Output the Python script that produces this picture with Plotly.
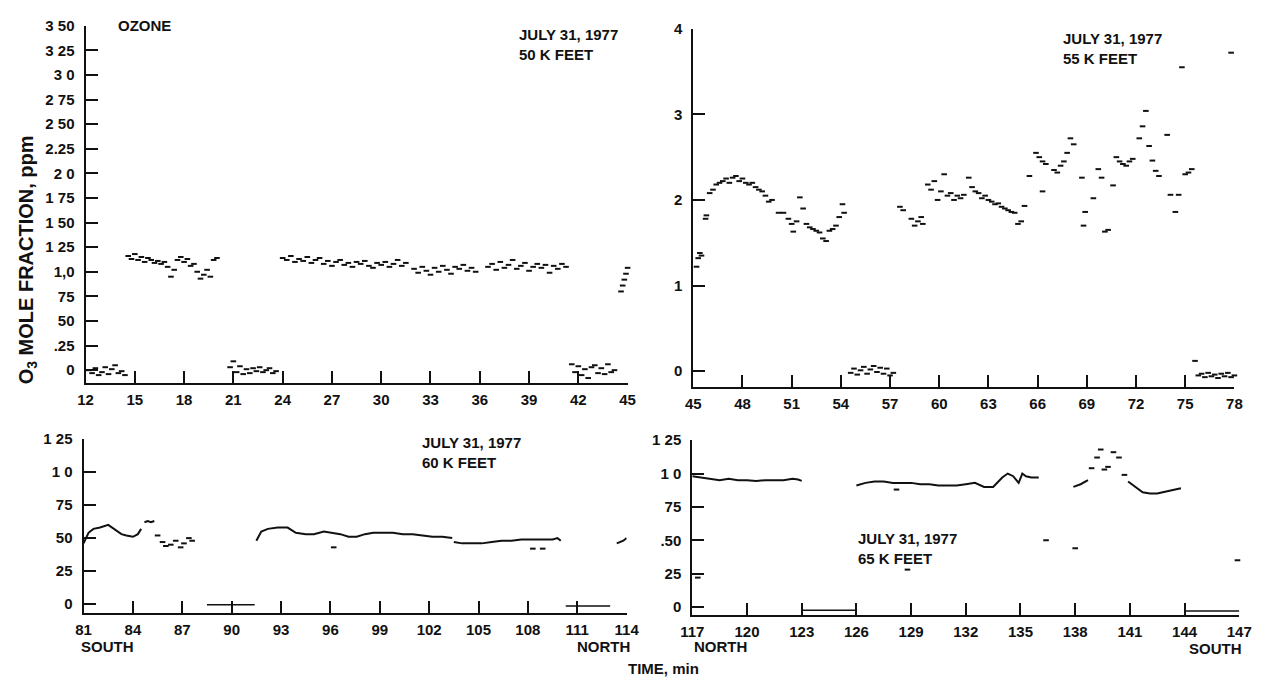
import plotly.graph_objects as go

# ---------------- DATA ----------------
# Panel 1: 50 K feet (time 12-45 min)
tl_zero1_x = [12.2, 12.4, 12.6, 12.8, 13.0, 13.2, 13.4, 13.6, 13.8, 14.0, 14.2, 14.4]
tl_zero1_y = [0.00, -0.03, 0.02, -0.05, -0.02, 0.03, -0.04, 0.01, 0.05, -0.03, -0.01, -0.05]
tl_a_x = [14.6, 14.8, 15.0, 15.2, 15.4, 15.6, 15.8, 16.0, 16.2, 16.4, 16.6, 16.8, 17.0, 17.2,
          17.4, 17.6, 17.8, 18.0, 18.2, 18.4, 18.6, 18.8, 19.0, 19.2, 19.4, 19.6, 19.8, 20.0]
tl_a_y = [1.16, 1.13, 1.18, 1.12, 1.15, 1.10, 1.14, 1.12, 1.09, 1.11, 1.08, 1.10, 1.05, 0.95,
          1.02, 1.12, 1.15, 1.10, 1.13, 1.06, 1.08, 1.00, 0.93, 0.97, 1.02, 0.95, 1.12, 1.14]
tl_zero2_x = [20.8, 21.0, 21.2, 21.4, 21.6, 21.8, 22.0, 22.2, 22.4, 22.6, 22.8, 23.0, 23.2, 23.4, 23.6]
tl_zero2_y = [0.03, 0.09, -0.02, 0.04, -0.04, 0.01, -0.03, 0.02, -0.01, 0.03, -0.02, 0.00, 0.02, -0.03, -0.01]
tl_d1_x = [24.0, 24.25, 24.5, 24.75, 25.0, 25.25, 25.5, 25.75, 26.0, 26.25, 26.5, 26.75, 27.0, 27.25,
           27.5, 27.75, 28.0, 28.25, 28.5, 28.75, 29.0, 29.25, 29.5, 29.75, 30.0, 30.25, 30.5, 30.75,
           31.0, 31.25, 31.5]
tl_d1_y = [1.14, 1.12, 1.16, 1.10, 1.13, 1.11, 1.15, 1.09, 1.12, 1.14, 1.08, 1.11, 1.06, 1.10,
           1.12, 1.07, 1.09, 1.05, 1.10, 1.08, 1.11, 1.06, 1.04, 1.09, 1.07, 1.10, 1.05, 1.08,
           1.12, 1.06, 1.09]
tl_d2_x = [32.0, 32.25, 32.5, 32.75, 33.0, 33.25, 33.5, 33.75, 34.0, 34.25, 34.5, 34.75, 35.0, 35.25, 35.5, 35.75]
tl_d2_y = [1.03, 0.99, 1.05, 1.01, 0.97, 1.04, 1.00, 1.06, 1.02, 0.98, 1.05, 1.03, 1.07, 1.01, 1.04, 1.00]
tl_d3_x = [36.5, 36.75, 37.0, 37.25, 37.5, 37.75, 38.0, 38.25, 38.5, 38.75, 39.0, 39.25, 39.5, 39.75,
           40.0, 40.25, 40.5, 40.75, 41.0, 41.25]
tl_d3_y = [1.05, 1.08, 1.02, 1.10, 1.04, 1.07, 1.12, 1.03, 1.06, 1.09, 1.01, 1.05, 1.08, 1.04,
           1.07, 0.99, 1.06, 1.03, 1.08, 1.05]
tl_zero3_x = [41.6, 41.8, 42.0, 42.2, 42.4, 42.6, 42.8, 43.0, 43.2, 43.4, 43.6, 43.8, 44.0, 44.2]
tl_zero3_y = [0.06, -0.02, 0.04, -0.05, 0.01, -0.08, 0.03, 0.05, -0.03, 0.02, -0.04, 0.06, -0.02, 0.00]
tl_b_x = [44.6, 44.7, 44.8, 44.9, 45.0]
tl_b_y = [0.80, 0.86, 0.92, 0.98, 1.04]

# Panel 2: 55 K feet (time 45-78 min)
tr_a_x = [45.2, 45.3, 45.4, 45.5, 45.75, 45.8]
tr_a_y = [1.22, 1.32, 1.38, 1.35, 1.78, 1.82]
tr_b_x = [46.0, 46.2, 46.4, 46.6, 46.8, 47.0, 47.2, 47.4, 47.6, 47.8, 48.0, 48.2, 48.4, 48.6,
          48.8, 49.0, 49.2, 49.4, 49.6, 49.8]
tr_b_y = [2.08, 2.12, 2.18, 2.20, 2.22, 2.25, 2.20, 2.26, 2.28, 2.22, 2.25, 2.20, 2.18, 2.20,
          2.15, 2.12, 2.10, 2.05, 1.98, 2.00]
tr_c_x = [50.2, 50.5, 50.8, 51.0, 51.1, 51.3, 51.5, 51.7, 51.9, 52.1, 52.3, 52.5, 52.7, 52.9,
          53.1, 53.3, 53.5, 53.7, 53.9, 54.1, 54.2]
tr_c_y = [1.85, 1.85, 1.78, 1.72, 1.63, 1.75, 2.03, 1.90, 1.72, 1.68, 1.66, 1.64, 1.62, 1.55,
          1.52, 1.64, 1.66, 1.70, 1.80, 1.95, 1.85]
tr_zero1_x = [54.6, 54.8, 55.0, 55.2, 55.4, 55.6, 55.8, 56.0, 56.2, 56.4, 56.6, 56.8, 57.0, 57.2]
tr_zero1_y = [-0.02, 0.03, -0.04, 0.01, 0.05, -0.03, 0.02, 0.06, -0.01, 0.04, -0.03, 0.03, -0.05, -0.02]
tr_d_x = [57.6, 57.8, 58.3, 58.5, 58.7, 58.9, 59.0]
tr_d_y = [1.92, 1.88, 1.78, 1.70, 1.75, 1.80, 1.72]
tr_e_x = [59.3, 59.5, 59.7, 59.9, 60.1, 60.3, 60.5, 60.7, 60.9, 61.1, 61.3, 61.5, 61.8, 62.0,
          62.2, 62.4, 62.6, 62.8, 63.0, 63.2, 63.4, 63.6, 63.8, 64.0, 64.2, 64.4, 64.6, 64.8,
          65.0, 65.2]
tr_e_y = [2.18, 2.12, 2.22, 2.00, 2.10, 2.30, 2.05, 2.08, 2.00, 2.05, 2.02, 2.06, 2.26, 2.15,
          2.10, 2.08, 2.02, 2.05, 2.00, 1.98, 1.95, 1.96, 1.92, 1.90, 1.88, 1.86, 1.85, 1.72,
          1.75, 1.93]
tr_f_x = [65.5, 65.9, 66.1, 66.3, 66.5, 66.3, 67.0, 67.2, 67.4, 67.6, 67.8, 68.0, 68.2, 68.7,
          68.8, 68.9, 69.4, 69.7, 69.9, 70.1, 70.3, 70.6, 70.8, 71.0, 71.2, 71.4, 71.6, 71.8,
          72.2, 72.4, 72.6, 72.8, 73.0, 73.2, 73.4, 73.9, 74.1, 74.4, 74.6, 75.0, 75.2, 75.4,
          74.8, 77.8]
tr_f_y = [2.28, 2.55, 2.50, 2.45, 2.42, 2.10, 2.35, 2.32, 2.40, 2.45, 2.55, 2.72, 2.65, 2.26,
          1.70, 1.86, 2.02, 2.36, 2.26, 1.63, 1.65, 2.17, 2.50, 2.45, 2.42, 2.40, 2.45, 2.48,
          2.72, 2.86, 3.04, 2.63, 2.46, 2.34, 2.28, 2.76, 2.06, 1.86, 2.06, 2.30, 2.32, 2.36,
          3.55, 3.72]
tr_zero2_x = [75.6, 75.8, 76.0, 76.2, 76.4, 76.6, 76.8, 77.0, 77.2, 77.4, 77.6, 77.8, 78.0]
tr_zero2_y = [0.12, -0.05, -0.03, -0.07, -0.02, -0.06, -0.04, -0.08, -0.03, -0.06, -0.02, -0.07, -0.05]

# Panel 3: 60 K feet (time 81-114 min)
bl_a_x = [81.0, 81.3, 81.6, 82.0, 82.5, 83.0, 83.3, 83.6, 84.0, 84.3, 84.5]
bl_a_y = [0.46, 0.54, 0.57, 0.58, 0.60, 0.56, 0.53, 0.52, 0.51, 0.53, 0.57]
bl_b_x = [84.7, 84.9, 85.1, 85.3]
bl_b_y = [0.62, 0.63, 0.62, 0.63]
bl_c_x = [85.5, 85.8, 86.0, 86.3, 86.6, 86.9, 87.1, 87.4, 87.6, 96.2, 108.3, 108.9]
bl_c_y = [0.52, 0.47, 0.44, 0.45, 0.48, 0.43, 0.46, 0.50, 0.48, 0.43, 0.42, 0.42]
bl_zero1_x = [88.5, 91.4]
bl_zero1_y = [-0.005, -0.005]
bl_d_x = [91.5, 91.8, 92.2, 92.8, 93.4, 93.9, 94.5, 95.0, 95.6, 96.1, 96.6, 97.1, 97.6, 98.1,
          98.6, 99.2, 99.8, 100.4, 101.0, 101.6, 102.2, 102.8, 103.4]
bl_d_y = [0.48, 0.55, 0.57, 0.58, 0.58, 0.54, 0.53, 0.53, 0.55, 0.54, 0.53, 0.51, 0.51, 0.53,
          0.54, 0.54, 0.54, 0.53, 0.53, 0.52, 0.51, 0.51, 0.50]
bl_e_x = [103.5, 104.0, 104.6, 105.2, 105.8, 106.4, 107.0, 107.6, 108.3, 108.9, 109.5, 109.8, 110.0]
bl_e_y = [0.47, 0.46, 0.46, 0.46, 0.47, 0.48, 0.48, 0.49, 0.49, 0.49, 0.49, 0.50, 0.48]
bl_zero2_x = [110.3, 113.0]
bl_zero2_y = [-0.015, -0.015]
bl_f_x = [113.4, 113.6, 113.8, 114.0]
bl_f_y = [0.46, 0.47, 0.48, 0.50]

# Panel 4: 65 K feet (time 117-147 min)
br_a_x = [117.0, 117.5, 118.0, 118.5, 119.0, 119.5, 120.0, 120.5, 121.0, 121.5, 122.0, 122.5, 122.8, 123.0]
br_a_y = [0.98, 0.97, 0.96, 0.95, 0.96, 0.95, 0.95, 0.945, 0.95, 0.95, 0.95, 0.96, 0.955, 0.945]
br_zero1_x = [123.0, 126.0]
br_zero1_y = [-0.025, -0.025]
br_b_x = [126.0, 126.5, 127.0, 127.5, 128.0, 128.5, 129.0, 129.5, 130.0, 130.5, 131.0, 131.5,
          132.0, 132.5, 133.0, 133.5, 134.0, 134.3, 134.6, 134.9, 135.1, 135.3, 135.6, 136.0]
br_b_y = [0.91, 0.93, 0.94, 0.94, 0.93, 0.93, 0.93, 0.92, 0.92, 0.91, 0.91, 0.91,
          0.92, 0.93, 0.90, 0.90, 0.97, 1.00, 0.98, 0.93, 1.00, 0.98, 0.97, 0.97]
br_c_x = [137.9, 138.3, 138.7]
br_c_y = [0.90, 0.92, 0.95]
br_d_x = [138.9, 139.2, 139.4, 139.6, 139.8, 140.1, 140.4, 140.7,
          117.3, 128.8, 136.4, 138.0, 146.9, 128.2]
br_d_y = [1.04, 1.12, 1.18, 1.03, 1.05, 1.16, 1.12, 0.99,
          0.22, 0.28, 0.50, 0.44, 0.35, 0.88]
br_e_x = [140.9, 141.1, 141.3, 141.7, 142.1, 142.5, 142.8, 143.2, 143.5, 143.8]
br_e_y = [0.94, 0.92, 0.90, 0.86, 0.85, 0.85, 0.86, 0.87, 0.88, 0.89]
br_zero2_x = [144.0, 147.0]
br_zero2_y = [-0.03, -0.03]

# Tick labels
tl_yvals = [0, 0.25, 0.5, 0.75, 1.0, 1.25, 1.5, 1.75, 2.0, 2.25, 2.5, 2.75, 3.0, 3.25, 3.5]
tl_ytext = ["0", ".25", "50", "75", "1,0", "1 25", "1 50", "1 75", "2 0", "2.25", "2 50", "2 75",
            "3 0", "3 25", "3 50"]
tl_xvals = [12, 15, 18, 21, 24, 27, 30, 33, 36, 39, 42, 45]
tr_yvals = [0, 1, 2, 3, 4]
tr_ytext = ["0", "1", "2", "3", "4"]
tr_xvals = [45, 48, 51, 54, 57, 60, 63, 66, 69, 72, 75, 78]
bl_yvals = [0, 0.25, 0.5, 0.75, 1.0, 1.25]
bl_ytext = ["0", "25", "50", "75", "1 0", "1 25"]
bl_xvals = [81, 84, 87, 90, 93, 96, 99, 102, 105, 108, 111, 114]
br_yvals = [0, 0.25, 0.5, 0.75, 1.0, 1.25]
br_ytext = ["0", "25", ".50", "75", "1 0", "1 25"]
br_xvals = [117, 120, 123, 126, 129, 132, 135, 138, 141, 144, 147]

# ---------------- FIGURE ----------------
W, H = 1267, 677
FONT = "Liberation Sans, Arial, sans-serif"
BLACK = "#111111"


def fx(p):
    return p / W


def fy(p):
    return 1 - p / H


fig = go.Figure()


def dots(x, y, ax):
    fig.add_trace(go.Scatter(
        x=x, y=y, mode="markers", xaxis="x" + ax, yaxis="y" + ax,
        marker=dict(symbol="line-ew", size=4, color=BLACK, line=dict(width=2, color=BLACK)),
        cliponaxis=False, showlegend=False, hoverinfo="x+y"))


def line(x, y, ax, w=2):
    fig.add_trace(go.Scatter(
        x=x, y=y, mode="lines", xaxis="x" + ax, yaxis="y" + ax,
        line=dict(color=BLACK, width=w), cliponaxis=False, showlegend=False, hoverinfo="x+y"))


for xs, ys in [(tl_zero1_x, tl_zero1_y), (tl_a_x, tl_a_y), (tl_zero2_x, tl_zero2_y),
               (tl_d1_x, tl_d1_y), (tl_d2_x, tl_d2_y), (tl_d3_x, tl_d3_y),
               (tl_zero3_x, tl_zero3_y), (tl_b_x, tl_b_y)]:
    dots(xs, ys, "")

for xs, ys in [(tr_a_x, tr_a_y), (tr_b_x, tr_b_y), (tr_c_x, tr_c_y), (tr_zero1_x, tr_zero1_y),
               (tr_d_x, tr_d_y), (tr_e_x, tr_e_y), (tr_f_x, tr_f_y), (tr_zero2_x, tr_zero2_y)]:
    dots(xs, ys, "2")

for xs, ys in [(bl_a_x, bl_a_y), (bl_b_x, bl_b_y), (bl_d_x, bl_d_y), (bl_e_x, bl_e_y),
               (bl_f_x, bl_f_y)]:
    line(xs, ys, "3")
for xs, ys in [(bl_zero1_x, bl_zero1_y), (bl_zero2_x, bl_zero2_y)]:
    line(xs, ys, "3", 1.5)
dots(bl_c_x, bl_c_y, "3")

for xs, ys in [(br_a_x, br_a_y), (br_b_x, br_b_y), (br_c_x, br_c_y), (br_e_x, br_e_y)]:
    line(xs, ys, "4")
for xs, ys in [(br_zero1_x, br_zero1_y), (br_zero2_x, br_zero2_y)]:
    line(xs, ys, "4", 1.5)
dots(br_d_x, br_d_y, "4")

tickfont = dict(family=FONT, size=15, color=BLACK, weight="bold")


def xax(px0, px1, rng, vals, anchor):
    return dict(domain=[fx(px0), fx(px1)], range=rng, anchor=anchor,
                tickmode="array", tickvals=vals, ticktext=[str(v) for v in vals],
                ticks="inside", ticklen=12, tickwidth=2, tickcolor=BLACK,
                showline=True, linewidth=2, linecolor=BLACK, showgrid=False, zeroline=False,
                tickfont=tickfont, ticklabelstandoff=2, fixedrange=True)


def yax(py0, py1, rng, vals, text, anchor):
    return dict(domain=[fy(py1), fy(py0)], range=rng, anchor=anchor,
                tickmode="array", tickvals=vals, ticktext=text,
                ticks="inside", ticklen=12, tickwidth=2, tickcolor=BLACK,
                showline=True, linewidth=2, linecolor=BLACK, showgrid=False, zeroline=False,
                tickfont=tickfont, ticklabelstandoff=6, fixedrange=True)


fig.update_layout(
    width=W, height=H, margin=dict(l=0, r=0, t=0, b=0),
    paper_bgcolor="white", plot_bgcolor="rgba(0,0,0,0)",
    font=dict(family=FONT, color=BLACK),
    xaxis=xax(75, 628, [12, 45], tl_xvals, "y"),
    yaxis=yax(17, 379, [-0.13, 3.5], tl_yvals, tl_ytext, "x"),
    xaxis2=xax(695, 1247, [45, 78], tr_xvals, "y2"),
    yaxis2=yax(20, 383, [-0.184, 4], tr_yvals, tr_ytext, "x2"),
    xaxis3=xax(73, 627, [81, 114], bl_xvals, "y3"),
    yaxis3=yax(436, 612, [-0.067, 1.25], bl_yvals, bl_ytext, "x3"),
    xaxis4=xax(694, 1252, [117, 147], br_xvals, "y4"),
    yaxis4=yax(437, 614, [-0.059, 1.25], br_yvals, br_ytext, "x4"),
)

afont = dict(family=FONT, size=15, color=BLACK, weight="bold")


def note(text, px, py, xanchor="left", yanchor="middle", size=15, angle=0):
    f = dict(afont)
    f["size"] = size
    fig.add_annotation(text=text, x=fx(px), y=fy(py), xref="paper", yref="paper",
                       xanchor=xanchor, yanchor=yanchor, showarrow=False, font=f,
                       align="left", textangle=angle)


note("OZONE", 106, 17)
note("JULY 31, 1977<br>50 K FEET", 515, 15, yanchor="top")
note("JULY 31, 1977<br>55 K FEET", 1070, 19, yanchor="top")
note("JULY 31, 1977<br>60 K FEET", 416, 429, yanchor="top")
note("JULY 31, 1977<br>65 K FEET", 861, 526, yanchor="top")
note("SOUTH", 97, 646, xanchor="center")
note("NORTH", 603, 646, xanchor="center")
note("NORTH", 723, 646, xanchor="center")
note("SOUTH", 1228, 648, xanchor="center")
note("TIME, min", 626, 668)
note("O<sub>3</sub> MOLE FRACTION, ppm", 16, 254, xanchor="center", size=20, angle=-90)

fig.write_html("out.html")
